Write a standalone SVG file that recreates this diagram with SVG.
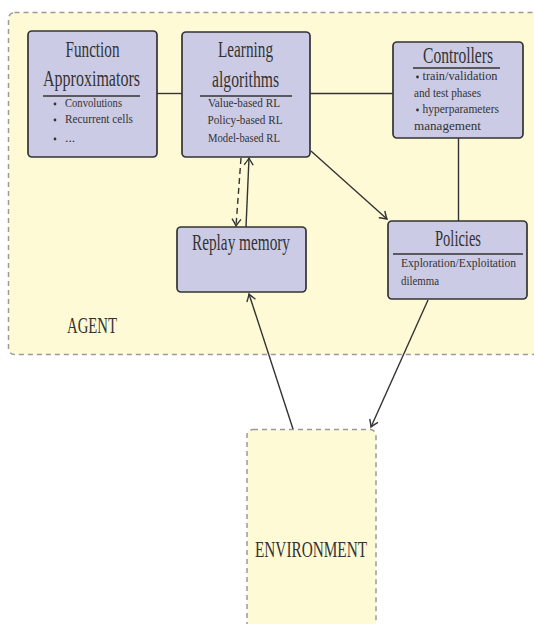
<svg xmlns="http://www.w3.org/2000/svg" width="534" height="624" viewBox="0 0 534 624">
<defs>
<style>
.region{fill:#fffad6;stroke:#9a9a9a;stroke-width:1.5;stroke-dasharray:5 4}
.node{fill:#cccbe6;stroke:#333;stroke-width:1.7}
.h{font-family:"Liberation Serif",serif;font-size:23.5px;fill:#333;text-anchor:middle}
.b{font-family:"Liberation Serif",serif;font-size:13.5px;fill:#333}
.bc{font-family:"Liberation Serif",serif;font-size:13.5px;fill:#333;text-anchor:middle}
.rule{stroke:#333;stroke-width:1.3}
.edge{stroke:#333;stroke-width:1.4;fill:none}
.dash{stroke-dasharray:6 4}
.dot{fill:#333}
</style>
<marker id="arr" viewBox="-10 -6 12 12" markerWidth="12" markerHeight="12" refX="0" refY="0" orient="auto" markerUnits="userSpaceOnUse">
<path d="M-7,-4.5 Q-2,-1 0,0 Q-2,1 -7,4.5" fill="none" stroke="#333" stroke-width="1.4"/>
</marker>
</defs>

<g id="agent">
<rect class="region" x="8.5" y="12.5" width="540" height="342" rx="6"/>
<text class="h" x="92" y="333" textLength="50" lengthAdjust="spacingAndGlyphs">AGENT</text>
</g>

<g id="environment">
<rect class="region" x="247" y="429.5" width="129" height="220" rx="6"/>
<text class="h" x="311" y="557" textLength="112" lengthAdjust="spacingAndGlyphs">ENVIRONMENT</text>
</g>

<g id="connectors">
<line class="edge" x1="157" y1="93.5" x2="182" y2="93.5"/>
<line class="edge" x1="310" y1="93.5" x2="393" y2="93.5"/>
<line class="edge" x1="458.5" y1="138" x2="458.5" y2="221"/>
<line class="edge" x1="311" y1="151" x2="387" y2="219" marker-end="url(#arr)"/>
<line class="edge dash" x1="241" y1="158" x2="236" y2="226" marker-end="url(#arr)"/>
<line class="edge" x1="246" y1="227" x2="249" y2="158" marker-end="url(#arr)"/>
<line class="edge" x1="293" y1="429" x2="249" y2="294" marker-end="url(#arr)"/>
<line class="edge" x1="428" y1="300" x2="371" y2="427" marker-end="url(#arr)"/>
</g>

<g id="function-approximators">
<rect class="node" x="28" y="31" width="129" height="126" rx="4"/>
<text class="h" x="92.5" y="57" textLength="54" lengthAdjust="spacingAndGlyphs">Function</text>
<text class="h" x="91.5" y="86" textLength="97" lengthAdjust="spacingAndGlyphs">Approximators</text>
<line class="rule" x1="43" y1="96" x2="140" y2="96"/>
<circle class="dot" cx="55" cy="104" r="1.4"/>
<text class="b" x="65" y="107" textLength="57" lengthAdjust="spacingAndGlyphs">Convolutions</text>
<circle class="dot" cx="55" cy="120" r="1.4"/>
<text class="b" x="65" y="123" textLength="68" lengthAdjust="spacingAndGlyphs">Recurrent cells</text>
<circle class="dot" cx="55" cy="139" r="1.4"/>
<text class="b" x="65" y="142">...</text>
</g>

<g id="learning-algorithms">
<rect class="node" x="182" y="32" width="128" height="125" rx="4"/>
<text class="h" x="245.5" y="57" textLength="55" lengthAdjust="spacingAndGlyphs">Learning</text>
<text class="h" x="245.5" y="87" textLength="67" lengthAdjust="spacingAndGlyphs">algorithms</text>
<line class="rule" x1="200" y1="96" x2="292" y2="96"/>
<text class="bc" x="244" y="107" textLength="72" lengthAdjust="spacingAndGlyphs">Value-based RL</text>
<text class="bc" x="245" y="124" textLength="75" lengthAdjust="spacingAndGlyphs">Policy-based RL</text>
<text class="bc" x="244" y="141.5" textLength="72" lengthAdjust="spacingAndGlyphs">Model-based RL</text>
</g>

<g id="controllers">
<rect class="node" x="393" y="42" width="130" height="96" rx="4"/>
<text class="h" x="458" y="63" textLength="70" lengthAdjust="spacingAndGlyphs">Controllers</text>
<line class="rule" x1="413" y1="68" x2="500" y2="68"/>
<circle class="dot" cx="417.5" cy="77" r="1.4"/>
<text class="b" x="422.5" y="80" textLength="75" lengthAdjust="spacingAndGlyphs">train/validation</text>
<text class="b" x="414" y="96.5" textLength="67" lengthAdjust="spacingAndGlyphs">and test phases</text>
<circle class="dot" cx="417.5" cy="110" r="1.4"/>
<text class="b" x="422.5" y="113" textLength="76.5" lengthAdjust="spacingAndGlyphs">hyperparameters</text>
<text class="b" x="414" y="129.5" textLength="67" lengthAdjust="spacingAndGlyphs">management</text>
</g>

<g id="replay-memory">
<rect class="node" x="177" y="227" width="129" height="65" rx="4"/>
<text class="h" x="241" y="250" textLength="98" lengthAdjust="spacingAndGlyphs">Replay memory</text>
</g>

<g id="policies">
<rect class="node" x="388" y="221" width="139" height="78" rx="4"/>
<text class="h" x="458" y="246" textLength="46" lengthAdjust="spacingAndGlyphs">Policies</text>
<line class="rule" x1="393" y1="254" x2="523" y2="254"/>
<text class="b" x="401" y="267" textLength="115" lengthAdjust="spacingAndGlyphs">Exploration/Exploitation</text>
<text class="b" x="401" y="285" textLength="38" lengthAdjust="spacingAndGlyphs">dilemma</text>
</g>
</svg>
